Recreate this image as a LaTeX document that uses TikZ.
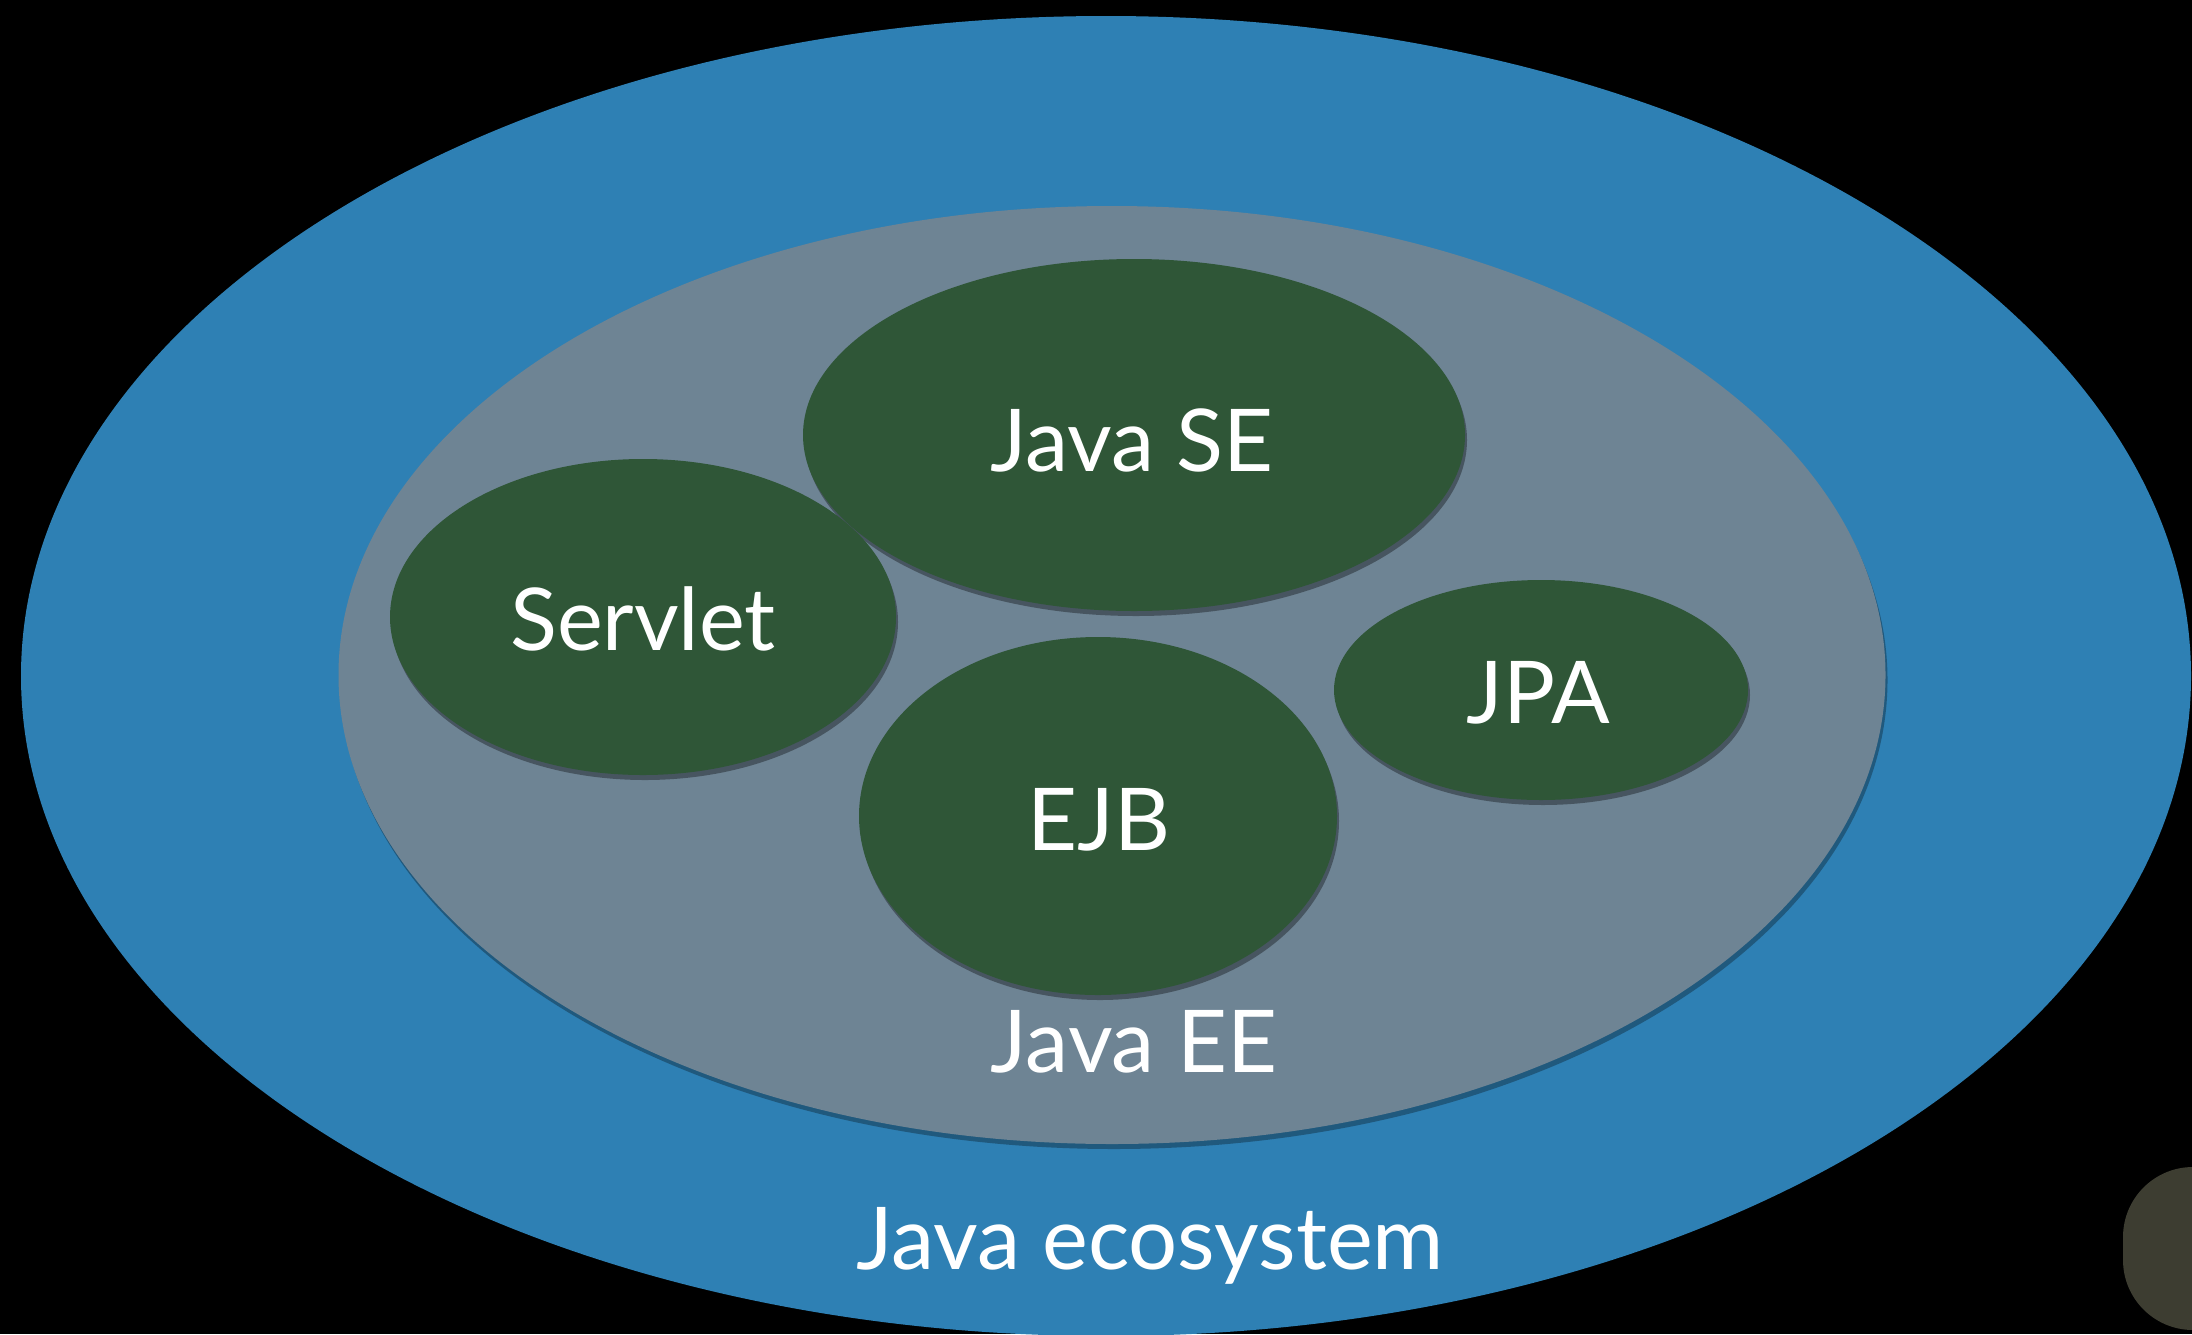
\documentclass[tikz,border=0pt]{standalone}
\usepackage{fontspec}
\setmainfont{Lato}
\usetikzlibrary{shapes.geometric,shadows}
\definecolor{ecoblue}{HTML}{2E80B4}
\definecolor{eegray}{HTML}{6E8494}
\definecolor{modgreen}{HTML}{2F5637}
\definecolor{darkolive}{HTML}{3D3D31}
\tikzset{
  blob/.style={ellipse, inner sep=0pt, outer sep=0pt, draw=none},
  modblob/.style={blob, fill=modgreen,
    drop shadow={shadow xshift=0.6pt, shadow yshift=-1.5pt, opacity=0.35, fill=black}},
  eeblob/.style={blob, fill=eegray,
    drop shadow={shadow xshift=0.6pt, shadow yshift=-1.5pt, opacity=0.3, fill=black}},
  lbltext/.style={text=white, inner sep=0pt, anchor=base, font=\fontsize{26}{30}\selectfont}
}
\begin{document}
\begin{tikzpicture}[x=0.3pt,y=-0.3pt]
\fill[black] (0,0) rectangle (2192,1334);
\useasboundingbox (0,0) rectangle (2192,1334);
% outer ecosystem
\node[blob, fill=ecoblue, minimum width=2170*0.3pt, minimum height=1320*0.3pt] (eco) at (1106,676) {};
% Java EE
\node[eeblob, minimum width=1547*0.3pt, minimum height=938*0.3pt] (ee) at (1112,675) {};
% modules
\node[modblob, minimum width=662*0.3pt, minimum height=352*0.3pt] (se) at (1134,435) {};
\node[modblob, minimum width=506*0.3pt, minimum height=316*0.3pt] (servlet) at (643,617) {};
\node[modblob, minimum width=478*0.3pt, minimum height=358*0.3pt] (ejb) at (1098,816) {};
\node[modblob, minimum width=414*0.3pt, minimum height=220*0.3pt] (jpa) at (1541,690) {};
% corner blob
\node[rectangle, rounded corners=70*0.3pt, fill=darkolive, inner sep=0pt,
      minimum width=180*0.3pt, minimum height=163*0.3pt] (corner) at (2213,1248.5) {};
% labels
\node[lbltext] (tse) at (1132,471) {Java SE};
\node[lbltext] (tservlet) at (643,650) {Servlet};
\node[lbltext] (tejb) at (1099,850) {EJB};
\node[lbltext] (tjpa) at (1538,723) {JPA};
\node[lbltext] (tee) at (1134,1072) {Java EE};
\node[lbltext] (teco) at (1150,1269) {Java ecosystem};
\end{tikzpicture}
\end{document}
